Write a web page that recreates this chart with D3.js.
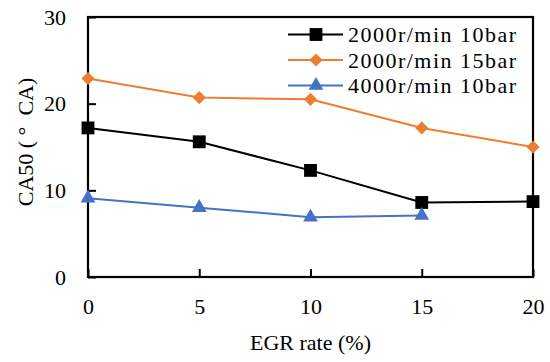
<!DOCTYPE html>
<html>
<head>
<meta charset="utf-8">
<script src="https://cdn.jsdelivr.net/npm/d3@7"></script>
<style>
  body { margin: 0; background: #fff; }
  svg text { font-family: "Liberation Serif", "Times New Roman", serif; }
</style>
</head>
<body>
<div id="chart"></div>
<script>
var egrRates = [0, 5, 10, 15, 20];
var blackValues = [17.2, 15.6, 12.3, 8.6, 8.7];
var orangeValues = [22.9, 20.7, 20.5, 17.2, 15.0];
var blueValues = [9.1, 8.0, 6.9, 7.1];
var xTicks = [0, 5, 10, 15, 20];
var yTicks = [0, 10, 20, 30];
var seriesNames = ["2000r/min 10bar", "2000r/min 15bar", "4000r/min 10bar"];

var series = [
    { name: seriesNames[0], values: blackValues, color: "#000000", symbol: d3.symbolSquare, size: 165 },
    { name: seriesNames[1], values: orangeValues, color: "#ED7D31", symbol: d3.symbolDiamond2, size: 110 },
    { name: seriesNames[2], values: blueValues, color: "#4472C4", symbol: d3.symbolTriangle, size: 95 }
];

var margin = { top: 17, right: 17, bottom: 85, left: 88 },
    width = 550 - margin.left - margin.right,
    height = 362 - margin.top - margin.bottom;

var svg = d3.select("#chart")
    .append("svg")
    .attr("width", 550)
    .attr("height", 362)
    .append("g")
    .attr("transform", "translate(" + margin.left + "," + margin.top + ")");

var x = d3.scaleLinear().domain([0, 20]).range([0, width]);
var y = d3.scaleLinear().domain([0, 30]).range([height, 0]);

// axes, ticks point inward
var xAxis = svg.append("g")
    .attr("transform", "translate(0," + height + ")")
    .call(d3.axisBottom(x).tickValues(xTicks).tickSizeInner(-8).tickSizeOuter(0).tickPadding(21));
var yAxis = svg.append("g")
    .call(d3.axisLeft(y).tickValues(yTicks).tickSizeInner(-8).tickSizeOuter(0).tickPadding(22));

[xAxis, yAxis].forEach(function (g) {
    g.attr("font-family", null);
    g.select(".domain").remove();
    g.selectAll("line").attr("stroke", "#000").attr("stroke-width", 2);
    g.selectAll("text")
        .attr("fill", "#000")
        .style("font-size", "22px");
});

// plot frame
svg.append("rect")
    .attr("x", 0).attr("y", 0)
    .attr("width", width).attr("height", height)
    .attr("fill", "none")
    .attr("stroke", "#000")
    .attr("stroke-width", 2.2);

var line = d3.line()
    .x(function (d, i) { return x(egrRates[i]); })
    .y(function (d) { return y(d); });

series.forEach(function (s) {
    svg.append("path")
        .datum(s.values)
        .attr("fill", "none")
        .attr("stroke", s.color)
        .attr("stroke-width", 2)
        .attr("d", line);

    svg.selectAll(null)
        .data(s.values)
        .enter()
        .append("path")
        .attr("transform", function (d, i) { return "translate(" + x(egrRates[i]) + "," + y(d) + ")"; })
        .attr("d", d3.symbol().type(s.symbol).size(s.size))
        .attr("fill", s.color);
});

// legend
var legend = svg.append("g")
    .attr("transform", "translate(" + (288 - margin.left) + "," + (34.5 - margin.top) + ")");

series.forEach(function (s, i) {
    var row = legend.append("g").attr("transform", "translate(0," + (i * 25.5) + ")");
    row.append("line")
        .attr("x1", 0).attr("x2", 55)
        .attr("stroke", s.color)
        .attr("stroke-width", 2);
    row.append("path")
        .attr("transform", "translate(28,0)")
        .attr("d", d3.symbol().type(s.symbol).size(s.size))
        .attr("fill", s.color);
    row.append("text")
        .attr("x", 60)
        .attr("dy", "0.35em")
        .attr("fill", "#000")
        .style("font-size", "22px")
        .attr("textLength", 168)
        .text(s.name);
});

// axis titles
svg.append("text")
    .attr("x", width / 2)
    .attr("y", height + 73)
    .attr("text-anchor", "middle")
    .attr("fill", "#000")
    .style("font-size", "22px")
    .text("EGR rate (%)");

svg.append("text")
    .attr("transform", "translate(" + (33 - margin.left) + "," + (142 - margin.top) + ") rotate(-90)")
    .attr("text-anchor", "middle")
    .attr("fill", "#000")
    .style("font-size", "22px")
    .text("CA50 (\u00a0°\u00a0\u00a0CA)");
</script>
</body>
</html>
